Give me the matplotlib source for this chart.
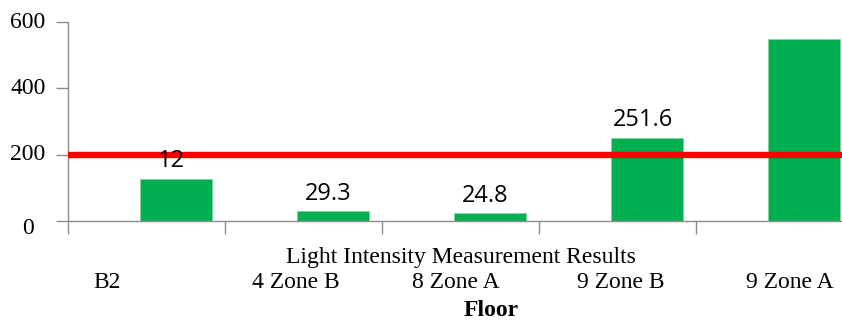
import matplotlib
matplotlib.use("Agg")
import matplotlib.pyplot as plt
import matplotlib.transforms as mtransforms

categories = ["B2", "4 Zone B", "8 Zone A", "9 Zone B", "9 Zone A"]
values = [128, 29.3, 24.8, 251.6, 548]
value_labels = ["12", "29.3", "24.8", "251.6", ""]
threshold = 200
yticks = [0, 200, 400, 600]
title_text = "Light Intensity Measurement Results"
xlabel_text = "Floor"

SERIF = ["Liberation Serif", "DejaVu Serif"]
SANS = ["Open Sans", "DejaVu Sans"]

fig = plt.figure(figsize=(8.42, 3.21), dpi=100)
ax = fig.add_axes([68 / 842, 1 - 221 / 321, 1 - 68 / 842, (221 - 22) / 321])

bar_offset = 0.69
bar_width = 0.46
green = "#00B050"
xs = [i + bar_offset for i in range(len(categories))]
ax.bar(xs, values, width=bar_width, color=green, edgecolor="#7fd6a0", linewidth=0.6, zorder=2)

ax.axhline(threshold, color="#FF0000", linewidth=4.6, zorder=3)

ax.set_xlim(0, 4.93)
ax.set_ylim(0, 600)

for s in ["top", "right"]:
    ax.spines[s].set_visible(False)
for s in ["left", "bottom"]:
    ax.spines[s].set_color("#8c8c8c")
    ax.spines[s].set_linewidth(1.0)

ax.set_xticks(range(len(categories)))
ax.set_xticklabels([])
ax.tick_params(axis="x", length=9, color="#8c8c8c", width=1.0, direction="out")
ax.set_yticks(yticks)
ax.set_yticklabels([])
ax.tick_params(axis="y", length=9, color="#8c8c8c", width=1.0, direction="out")

ylab_tr = mtransforms.blended_transform_factory(fig.transFigure, ax.transData)
for v in yticks:
    tr = ylab_tr
    if v == 0:
        tr = ylab_tr + mtransforms.ScaledTranslation(0, -8 / 100, fig.dpi_scale_trans)
    ax.text(28 / 842, v, str(v), transform=tr, ha="center", va="center",
            fontsize=17, family=SERIF, clip_on=False)

for x, v, lab in zip(xs, values, value_labels):
    if lab:
        ax.annotate(lab, (x - 0.03, v), xytext=(0, 8), textcoords="offset points",
                    ha="center", va="baseline", fontsize=17, family=SANS, zorder=4)

cat_pos = [0.25, 1.45, 2.47, 3.52, 4.6]
cat_tr = mtransforms.blended_transform_factory(ax.transData, fig.transFigure)
for p, c in zip(cat_pos, categories):
    ax.text(p, 1 - 283 / 321, c, transform=cat_tr, ha="center", va="center",
            fontsize=17, family=SERIF, clip_on=False)

fig.text(461 / 842, 1 - 257 / 321, title_text, ha="center", va="center",
         fontsize=17, family=SERIF)
fig.text(491 / 842, 1 - 310 / 321, xlabel_text, ha="center", va="center",
         fontsize=17, family=SERIF, fontweight="bold")

fig.savefig("out.png", dpi=100)
